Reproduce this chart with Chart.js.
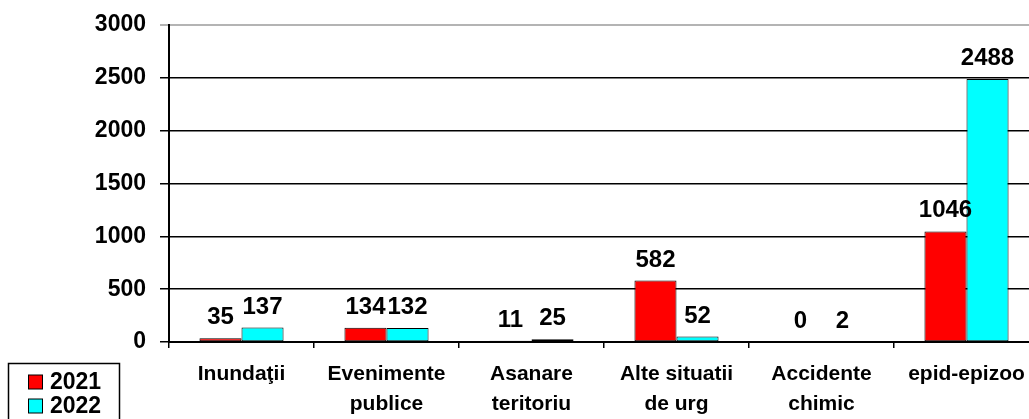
<!DOCTYPE html>
<html>
<head>
<meta charset="utf-8">
<script src="https://cdn.jsdelivr.net/npm/chart.js@4"></script>
<style>
  html, body { margin: 0; padding: 0; background: #fff; overflow: hidden; }
  #wrap { width: 1040px; height: 419px; position: relative; }
</style>
</head>
<body>
<div id="wrap"><canvas id="barchart"></canvas></div>
<script>
const categories = [
  "Inundaţii",
  ["Evenimente", "publice"],
  ["Asanare", "teritoriu"],
  ["Alte situatii", "de urg"],
  ["Accidente", "chimic"],
  "epid-epizoo"
];
const values2021 = [35, 134, 11, 582, 0, 1046];
const values2022 = [137, 132, 25, 52, 2, 2488];
const yTicks = [0, 500, 1000, 1500, 2000, 2500, 3000];

const FONT = "'Liberation Sans', Arial, sans-serif";

// value labels above each bar
const valueLabels = {
  id: "valueLabels",
  afterDatasetsDraw(chart) {
    const ctx = chart.ctx;
    ctx.save();
    ctx.font = "bold 24px " + FONT;
    ctx.fillStyle = "#000";
    ctx.textAlign = "center";
    ctx.textBaseline = "alphabetic";
    chart.data.datasets.forEach((ds, i) => {
      chart.getDatasetMeta(i).data.forEach((bar, j) => {
        ctx.fillText(String(ds.data[j]), bar.x, bar.y - 14);
      });
    });
    ctx.restore();
  }
};

// boxed legend in the lower left corner
const boxLegend = {
  id: "boxLegend",
  afterDraw(chart) {
    const ctx = chart.ctx;
    ctx.save();
    ctx.strokeStyle = "#000";
    ctx.lineWidth = 1.5;
    ctx.strokeRect(8.5, 363.5, 111, 70);
    ctx.font = "bold 23px " + FONT;
    ctx.textBaseline = "middle";
    ctx.textAlign = "left";
    chart.data.datasets.forEach((ds, i) => {
      const cy = 382 + i * 24;
      ctx.fillStyle = ds.backgroundColor;
      ctx.fillRect(28.5, cy - 7, 14, 14);
      ctx.lineWidth = 1;
      ctx.strokeRect(28.5, cy - 7, 14, 14);
      ctx.fillStyle = "#000";
      ctx.fillText(ds.label, 50, cy + 1);
    });
    ctx.restore();
  }
};

new Chart(document.getElementById("barchart"), {
  type: "bar",
  data: {
    labels: categories,
    datasets: [
      {
        label: "2021",
        data: values2021,
        backgroundColor: "#ff0000",
        borderColor: "#000",
        borderWidth: 1,
        borderSkipped: false
      },
      {
        label: "2022",
        data: values2022,
        backgroundColor: "#00ffff",
        borderColor: "#000",
        borderWidth: 1,
        borderSkipped: false
      }
    ]
  },
  options: {
    responsive: true,
    maintainAspectRatio: false,
    animation: false,
    layout: { padding: { top: 25, right: 1, left: 0, bottom: 0 } },
    datasets: { bar: { categoryPercentage: 0.58, barPercentage: 1 } },
    plugins: {
      legend: { display: false },
      tooltip: { enabled: false }
    },
    scales: {
      x: {
        afterFit(scale) { scale.height = 77; },
        grid: {
          offset: true,
          drawOnChartArea: false,
          color: "#000",
          lineWidth: 1.5,
          tickLength: 6
        },
        border: { color: "#000", width: 2 },
        ticks: {
          color: "#000",
          padding: 11,
          maxRotation: 0,
          autoSkip: false,
          font: { family: FONT, size: 21, weight: "bold", lineHeight: 1.45 }
        }
      },
      y: {
        min: 0,
        max: 3000,
        afterFit(scale) { scale.width = 169; },
        afterBuildTicks(scale) { scale.ticks = yTicks.map(v => ({ value: v })); },
        grid: {
          color: ctx => (ctx.tick && ctx.tick.value === 3000 ? "#b4b4b4" : "#000"),
          lineWidth: ctx => (ctx.tick && ctx.tick.value === 3000 ? 2 : 1.5),
          tickLength: 9
        },
        border: { color: "#000", width: 2 },
        ticks: {
          color: "#000",
          padding: 14,
          callback: v => String(v),
          font: { family: FONT, size: 23, weight: "bold", lineHeight: 0.8 }
        }
      }
    }
  },
  plugins: [valueLabels, boxLegend]
});
</script>
</body>
</html>
